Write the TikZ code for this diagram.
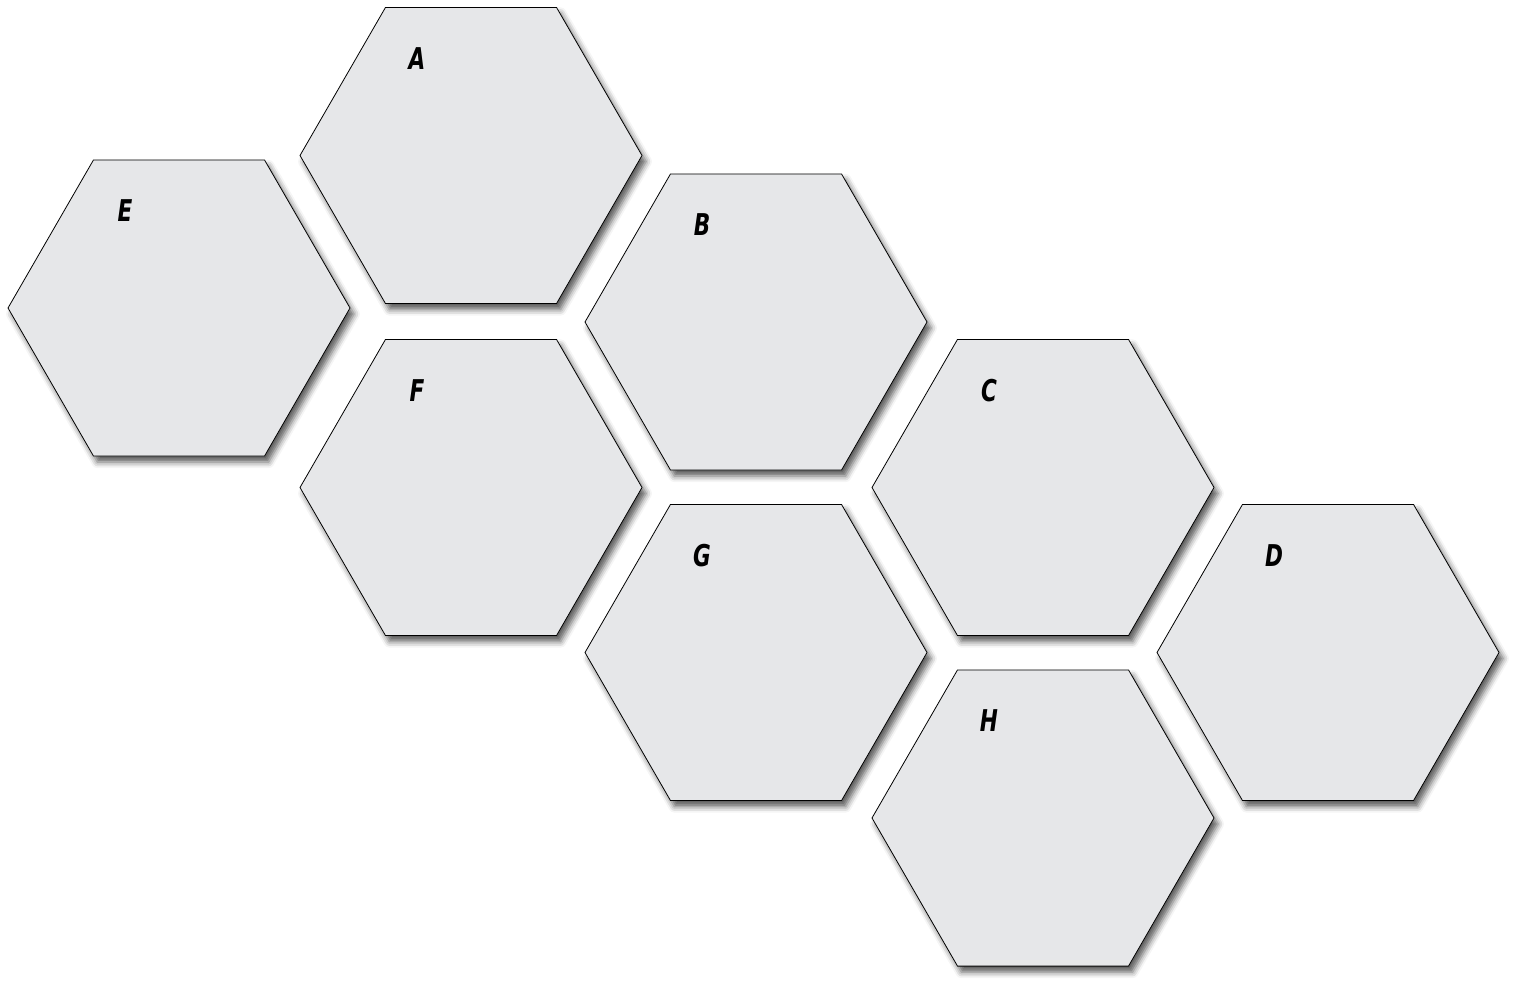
\documentclass[tikz,border=0pt]{standalone}
\usepackage{fontspec}
\setmainfont{Liberation Sans}
\newfontfamily\labfont{DejaVu Sans}
\usetikzlibrary{shapes.geometric,shadows.blur}
\definecolor{hexfill}{HTML}{E6E7E9}
\tikzset{
  hexbox/.style={regular polygon, regular polygon sides=6, minimum size=342pt,
    inner sep=0pt, outer sep=0pt, draw=black, line width=0.8pt, fill=hexfill,
    blur shadow={shadow xshift=4pt, shadow yshift=-6pt, shadow blur radius=6pt, shadow opacity=65}},
  hexlabel/.style={font=\labfont\fontsize{30}{30}\selectfont\bfseries\itshape, inner sep=0pt}
}
\newcommand{\hexlab}[1]{\scalebox{0.72}[1]{#1}}
\begin{document}
\begin{tikzpicture}[x=1pt,y=-1pt]
\useasboundingbox (0,0) rectangle (1523,987);
\node[hexbox] (A) at (471,155.5) {};
\node[hexbox] (E) at (179,308) {};
\node[hexbox] (F) at (471,487.5) {};
\node[hexbox] (B) at (756,322) {};
\node[hexbox] (G) at (756,652.5) {};
\node[hexbox] (C) at (1043,487.5) {};
\node[hexbox] (H) at (1043,818) {};
\node[hexbox] (D) at (1328,652.5) {};
\foreach \n in {A,E,F,B,G,C,H,D}{
  \node[hexlabel] (l\n) at ([xshift=-54pt,yshift=97pt]\n.center) {\hexlab{\n}};
}
\end{tikzpicture}
\end{document}
